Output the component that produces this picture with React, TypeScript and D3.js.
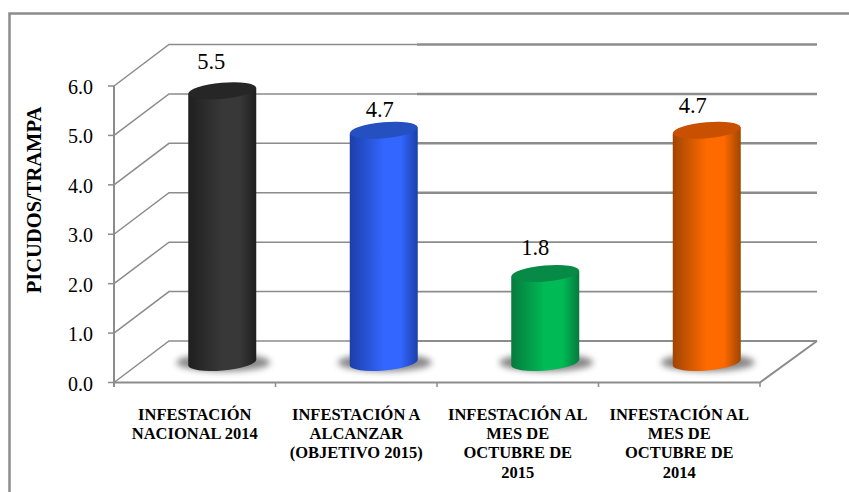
import React from "react";
import * as d3 from "d3";

const categories = [
  ["INFESTACIÓN", "NACIONAL 2014"],
  ["INFESTACIÓN A", "ALCANZAR", "(OBJETIVO 2015)"],
  ["INFESTACIÓN AL", "MES DE", "OCTUBRE DE", "2015"],
  ["INFESTACIÓN AL", "MES DE", "OCTUBRE DE", "2014"],
];
const values = [5.5, 4.7, 1.8, 4.7];
const valueLabels = ["5.5", "4.7", "1.8", "4.7"];
const ticks = [0, 1, 2, 3, 4, 5, 6];
const sideColors = [
  ["#1f1f1f", "#383838"],
  ["#1c3fa8", "#3366ff"],
  ["#067a3e", "#00bb55"],
  ["#a04500", "#ff6a00"],
];
const topColors = ["#262626", "#2450c0", "#078a45", "#c85000"];
const labelNudgeX = [-11, -4, -10, -14];
const labelNudgeY = [-22, -13, -18.5, -17];

const y = d3.scaleLinear().domain([0, 6]).range([382.5, 86]);
const x = d3.scaleBand().domain(["0", "1", "2", "3"]).range([114, 760]);
const dx = 55;
const dy = -41.5;
const barW = 68;
const grey = "#8c8c8c";
const tilt = -5;
const capRy = 8;

function cylinder(cx: number, base: number, top: number) {
  const l = cx - barW / 2;
  const r = cx + barW / 2;
  const s = (barW / 2) * Math.sin((-tilt * Math.PI) / 180);
  return `M${l},${top + s} L${l},${base + s} A${barW / 2},${capRy} ${tilt} 0 0 ${r},${base - s} L${r},${top - s} Z`;
}

export default function App() {
  return (
    <svg width={849} height={492} style={{ position: "absolute", left: 0, top: 0 }}>
      <defs>
        {sideColors.map((c, i) => (
          <linearGradient key={i} id={`g${i}`} x1="0" x2="1" y1="0" y2="0">
            <stop offset="0" stopColor={c[0]} />
            <stop offset="0.5" stopColor={c[1]} />
            <stop offset="0.75" stopColor={c[1]} />
            <stop offset="1" stopColor={c[0]} />
          </linearGradient>
        ))}
        <filter id="blur" x="-30%" y="-60%" width="160%" height="220%">
          <feGaussianBlur stdDeviation="3" />
        </filter>
      </defs>
      <path d="M9.5,492 L9.5,13.5 L849,13.5" fill="none" stroke={grey} strokeWidth={2.5} />
      {ticks.map((t) => (
        <g key={t}>
          <path
            d={`M${x.range()[0]},${y(t)} L${x.range()[0] + dx},${y(t) + dy} L417,${y(t) + dy}`}
            fill="none"
            stroke={grey}
            strokeWidth={1.5}
          />
          <line x1={417} x2={817} y1={y(t) + dy} y2={y(t) + dy} stroke={grey} strokeWidth={t >= 3 ? 2.5 : 1.8} />
          <line x1={108} x2={114} y1={y(t)} y2={y(t)} stroke={grey} strokeWidth={1.5} />
          <text x={93} y={y(t) + 8} textAnchor="end" fontFamily="'Liberation Serif'" fontSize={20} fill="#000">
            {t.toFixed(1)}
          </text>
        </g>
      ))}
      <line x1={114} x2={114} y1={y(6)} y2={387} stroke={grey} strokeWidth={2} />
      <path d={`M114,${y(0)} L760,${y(0)} L817,${y(0) + dy}`} fill="none" stroke={grey} strokeWidth={2} />
      {[1, 2, 3, 4].map((i) => {
        const px = 114 + (i * 646) / 4;
        return <line key={i} x1={px} x2={px} y1={y(0)} y2={387} stroke={grey} strokeWidth={1.5} />;
      })}
      <text
        transform="translate(41,200) rotate(-90)"
        textAnchor="middle"
        fontFamily="'Liberation Serif'"
        fontWeight="bold"
        fontSize={20.5}
      >
        PICUDOS/TRAMPA
      </text>
      {values.map((v, i) => {
        const cx = x(String(i))! + x.bandwidth() / 2 + dx / 2;
        const base = y(0) - 20;
        const top = y(v) - 20;
        return (
          <g key={i}>
            <ellipse cx={cx + 1} cy={base} rx={47} ry={9} fill="#6a6a6a" opacity={0.8} filter="url(#blur)" />
            <path d={cylinder(cx, base, top)} fill={`url(#g${i})`} />
            <ellipse cx={cx} cy={top} rx={barW / 2} ry={capRy} transform={`rotate(${tilt} ${cx} ${top})`} fill={topColors[i]} />
            <text x={cx + labelNudgeX[i]} y={top + labelNudgeY[i]} textAnchor="middle" fontFamily="'Liberation Serif'" fontSize={22.5}>
              {valueLabels[i]}
            </text>
          </g>
        );
      })}
      {categories.map((lines, i) => {
        const cx = x(String(i))! + x.bandwidth() / 2;
        return (
          <text key={i} textAnchor="middle" fontFamily="'Liberation Serif'" fontWeight="bold" fontSize={16.5}>
            {lines.map((l, j) => (
              <tspan key={j} x={cx} y={420 + j * 19.2}>
                {l}
              </tspan>
            ))}
          </text>
        );
      })}
    </svg>
  );
}
